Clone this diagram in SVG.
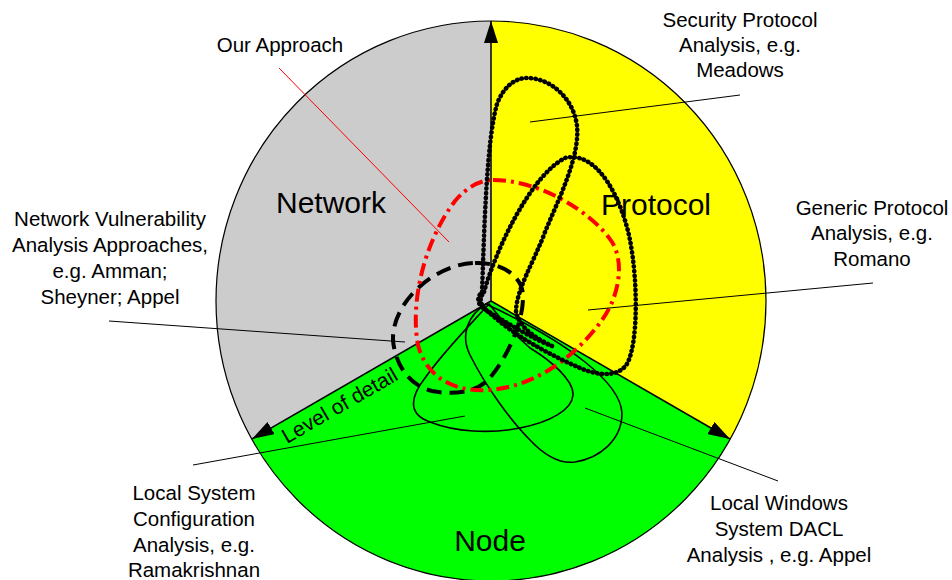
<svg xmlns="http://www.w3.org/2000/svg" width="952" height="580" viewBox="0 0 952 580">
  <defs>
    <marker id="arrow" viewBox="0 0 22 14" refX="22" refY="7" markerWidth="22" markerHeight="14" markerUnits="userSpaceOnUse" orient="auto">
      <path d="M0,0 L22,7 L0,14 z" fill="#000"/>
    </marker>
    <style>
      text { font-family: "Liberation Sans", Arial, sans-serif; fill: #000; }
      .lbl { font-size: 20.5px; text-anchor: middle; }
      .big { font-size: 30px; text-anchor: middle; }
      .axis { stroke: #000; stroke-width: 1.5; fill: none; }
      .leader { stroke: #000; stroke-width: 1; fill: none; }
      .dotted { stroke: #000; stroke-width: 4.6; fill: none; stroke-linecap: round; stroke-dasharray: 0.3 4.4; }
      .dashed { stroke: #000; stroke-width: 4; fill: none; stroke-dasharray: 15 8; }
      .dashdot { stroke: #ff0000; stroke-width: 4; fill: none; stroke-dasharray: 13 5 3 5; }
      .thin { stroke: #000; stroke-width: 1.6; fill: none; }
    </style>
  </defs>

  <!-- three 120 degree sectors of the disc -->
  <g id="sectors">
    <path id="sector-network" d="M491,301 L491,21 A275,280 0 0 0 251.7,439.2 Z" fill="#cccccc"/>
    <path id="sector-protocol" d="M491,301 L491,21 A275,280 0 0 1 730.3,439.2 Z" fill="#ffff00"/>
    <path id="sector-node" d="M491,301 L730.3,439.2 A275,280 0 0 1 251.7,439.2 Z" fill="#00ff00"/>
    <ellipse cx="491" cy="301" rx="275" ry="280" fill="none" stroke="#000" stroke-width="1.2"/>
  </g>

  <!-- axes of increasing detail -->
  <g id="axes">
    <line class="axis" x1="491" y1="301" x2="491" y2="21" marker-end="url(#arrow)"/>
    <line class="axis" x1="491" y1="301" x2="252" y2="439" marker-end="url(#arrow)"/>
    <line class="axis" x1="491" y1="301" x2="730" y2="439" marker-end="url(#arrow)"/>
  </g>

  <!-- coverage regions of the individual approaches -->
  <g id="regions">
    <path id="region-local-system" class="thin" d="M489,304 C470,325 445,350 425,378 C408,400 410,415 430,422 C455,432 490,434 520,428 C550,422 572,410 573,395 C574,380 550,360 530,348 C515,335 500,318 489,304 Z"/>
    <path id="region-windows" class="thin" d="M486,304 C468,315 460,335 470,355 C485,385 510,420 530,440 C545,456 560,464 575,462 C600,458 622,440 622,413 C621,395 605,378 585,362 C560,342 525,322 486,304 Z"/>
    <path id="region-network-vuln" class="dashed" d="M475,263 C500,262 522,275 523,295 C524,322 506,360 488,380 C475,393 452,395 432,391 C410,386 395,365 393,340 C392,300 438,263 475,263 Z"/>
    <path id="region-our-approach" class="dashdot" d="M493,180 C540,180 592,212 612,242 C626,265 617,300 602,320 C575,358 532,388 487,390 C452,392 426,376 418,345 C410,302 424,242 455,201 C467,187 480,180 493,180 Z"/>
    <path id="region-security" class="dotted" d="M482,292 C484,240 486,142 497,104 C503,88 514,78 527,78 C552,78 574,100 577,126 C580,156 560,196 545,232 C533,264 516,290 516,312 C520,330 540,340 552,346 C535,340 505,322 486,310 C476,304 477,297 482,292 Z"/>
    <path id="region-generic" class="dotted" d="M484,292 C495,252 530,176 565,158 C598,150 622,200 630,240 C638,282 638,340 628,362 C620,378 598,376 580,368 C550,355 515,336 492,315 C480,306 478,300 484,292 Z"/>
  </g>

  <!-- pointer lines from labels into the disc -->
  <g id="connectors">
    <line class="leader" x1="740" y1="95" x2="530" y2="122"/>
    <line class="leader" x1="873" y1="283" x2="588" y2="310"/>
    <line class="leader" x1="109" y1="321" x2="405" y2="342"/>
    <line class="leader" x1="193" y1="465" x2="465" y2="416"/>
    <line class="leader" x1="778" y1="481" x2="585" y2="408"/>
    <line x1="279" y1="68" x2="449" y2="242" stroke="#ff0000" stroke-width="1"/>
  </g>

  <!-- sector titles -->
  <g id="node-network"><text class="big" x="331" y="213">Network</text></g>
  <g id="node-protocol"><text class="big" x="656" y="215">Protocol</text></g>
  <g id="node-node"><text class="big" x="490" y="551">Node</text></g>
  <g id="axis-label"><text x="0" y="0" font-size="21" transform="translate(287,444) rotate(-30)">Level of detail</text></g>

  <!-- approach labels -->
  <g id="label-our-approach"><text class="lbl" x="280" y="52">Our Approach</text></g>
  <g id="label-security">
    <text class="lbl" x="740" y="27">Security Protocol</text>
    <text class="lbl" x="740" y="52">Analysis, e.g.</text>
    <text class="lbl" x="740" y="77">Meadows</text>
  </g>
  <g id="label-generic">
    <text class="lbl" x="872" y="215">Generic Protocol</text>
    <text class="lbl" x="872" y="240">Analysis, e.g.</text>
    <text class="lbl" x="872" y="266">Romano</text>
  </g>
  <g id="label-network-vuln">
    <text class="lbl" x="110" y="226">Network Vulnerability</text>
    <text class="lbl" x="110" y="252">Analysis Approaches,</text>
    <text class="lbl" x="110" y="278">e.g. Amman;</text>
    <text class="lbl" x="110" y="304">Sheyner; Appel</text>
  </g>
  <g id="label-local-system">
    <text class="lbl" x="194" y="500">Local System</text>
    <text class="lbl" x="194" y="526">Configuration</text>
    <text class="lbl" x="194" y="552">Analysis, e.g.</text>
    <text class="lbl" x="194" y="577">Ramakrishnan</text>
  </g>
  <g id="label-windows">
    <text class="lbl" x="779" y="510">Local Windows</text>
    <text class="lbl" x="779" y="536">System DACL</text>
    <text class="lbl" x="779" y="562">Analysis , e.g. Appel</text>
  </g>
</svg>
